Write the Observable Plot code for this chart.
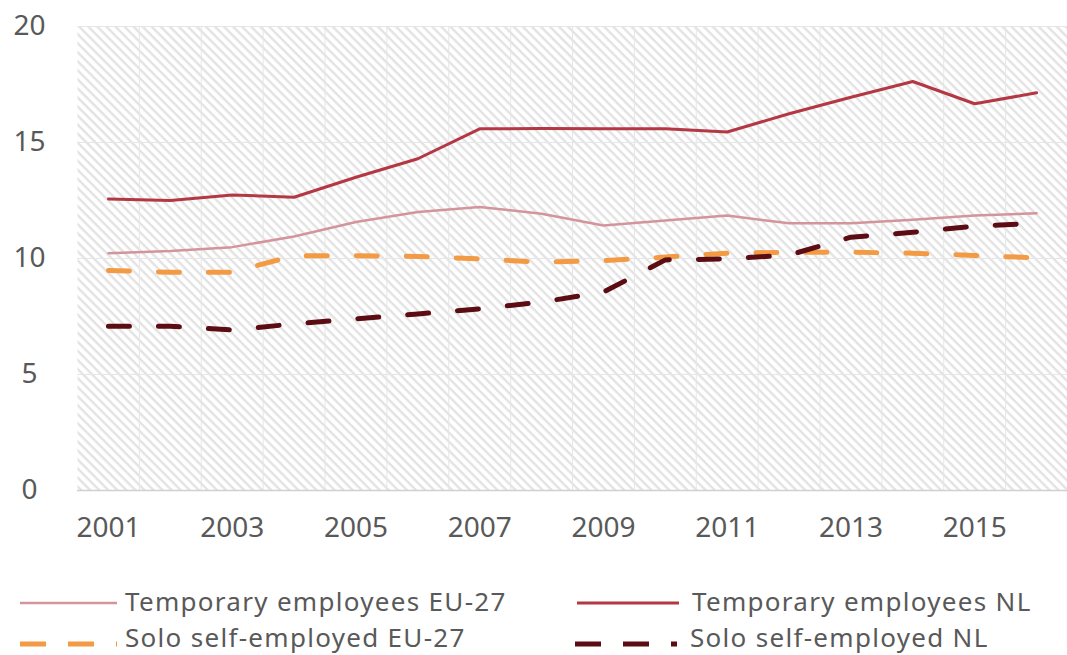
<!DOCTYPE html>
<html>
<head>
<meta charset="utf-8">
<script src="https://cdn.jsdelivr.net/npm/d3@7"></script>
<script src="https://cdn.jsdelivr.net/npm/@observablehq/plot@0.6"></script>
<style>
  html, body { margin: 0; padding: 0; background: #fff; }
  body { width: 1067px; height: 655px; position: relative; overflow: hidden; font-family: "Noto Sans", sans-serif; }
  #chart { position: absolute; left: 0; top: 0; }
  #legend { position: absolute; left: 0; top: 555px; }
</style>
</head>
<body>
<div id="chart"></div>
<div id="legend"></div>
<script>
const years = [2001, 2002, 2003, 2004, 2005, 2006, 2007, 2008, 2009, 2010, 2011, 2012, 2013, 2014, 2015, 2016];
const tempEU = [10.23, 10.32, 10.49, 10.95, 11.57, 12.0, 12.22, 11.93, 11.42, 11.64, 11.85, 11.52, 11.52, 11.67, 11.85, 11.95];
const tempNL = [12.57, 12.5, 12.74, 12.64, 13.5, 14.3, 15.59, 15.6, 15.59, 15.59, 15.45, 16.24, 16.95, 17.63, 16.67, 17.14];
const soloEU = [9.48, 9.41, 9.41, 10.12, 10.12, 10.09, 9.98, 9.84, 9.91, 10.06, 10.23, 10.27, 10.27, 10.23, 10.13, 10.03];
const soloNL = [7.08, 7.08, 6.92, 7.18, 7.4, 7.61, 7.83, 8.12, 8.55, 9.94, 9.98, 10.15, 10.92, 11.13, 11.39, 11.52];
const seriesNames = ["Temporary employees EU-27", "Temporary employees NL", "Solo self-employed EU-27", "Solo self-employed NL"];
const seriesColors = ["#D4949C", "#B33844", "#F39A45", "#5C0D14"];
const xTicks = [2001, 2003, 2005, 2007, 2009, 2011, 2013, 2015];
const yTicks = [0, 5, 10, 15, 20];

const seriesValues = [tempEU, tempNL, soloEU, soloNL];
const rows = seriesValues.map((vals, s) => years.map((yr, i) => ({year: yr, value: vals[i], series: seriesNames[s]})));
const styles = [
  {strokeWidth: 2.5},
  {strokeWidth: 3},
  {strokeWidth: 5, strokeDasharray: "21,29", strokeLinecap: "round"},
  {strokeWidth: 5, strokeDasharray: "21,29", strokeLinecap: "round"}
];

const boundaries = years.slice(0, -1).map(y => y + 0.5);

const defsMark = () => {
  const ns = "http://www.w3.org/2000/svg";
  const g = document.createElementNS(ns, "g");
  g.innerHTML = `<defs><pattern id="hatch" patternUnits="userSpaceOnUse" width="12" height="6.4" patternTransform="rotate(45)">
      <rect x="0" y="0" width="12" height="6.4" fill="#ffffff"></rect>
      <rect x="0" y="0" width="12" height="2.4" fill="#E3E3E3"></rect>
    </pattern></defs>`;
  return g;
};

const chart = Plot.plot({
  width: 1067,
  height: 555,
  marginTop: 26,
  marginBottom: 65,
  marginLeft: 77,
  marginRight: 0,
  style: {fontFamily: "'Noto Sans', sans-serif", fontSize: "28px", color: "#595959", background: "#fff"},
  x: {domain: [2000.5, 2016.5]},
  y: {domain: [0, 20]},
  marks: [
    defsMark,
    Plot.frame({fill: "url(#hatch)", stroke: null}),
    Plot.gridX(boundaries, {stroke: "#E6E6E6", strokeOpacity: 1, strokeWidth: 1}),
    Plot.gridY([5, 10, 15, 20], {stroke: "#E6E6E6", strokeOpacity: 1, strokeWidth: 1}),
    Plot.ruleY([0], {stroke: "#D0D0D0", strokeWidth: 1.5}),
    Plot.axisX(xTicks, {tickSize: 0, tickPadding: 27, tickFormat: d => String(d), fontSize: 28, fill: "#595959", label: null}),
    Plot.axisY(yTicks, {tickSize: 0, tickPadding: 48, textAnchor: "middle", fontSize: 28, fill: "#595959", label: null}),
    ...rows.map((data, s) => Plot.line(data, {x: "year", y: "value", stroke: seriesColors[s], ...styles[s]}))
  ]
});
document.getElementById("chart").appendChild(chart);

// Legend (separate SVG below the chart)
const legendPos = [
  {x1: 20, x2: 117, textX: 125, lineY: 48, baseY: 56},
  {x1: 577, x2: 679, textX: 692, lineY: 48, baseY: 56},
  {x1: 20, x2: 117, textX: 125, lineY: 89, baseY: 92},
  {x1: 575, x2: 677, textX: 690, lineY: 89, baseY: 92}
];
const ns = "http://www.w3.org/2000/svg";
const lsvg = document.createElementNS(ns, "svg");
lsvg.setAttribute("width", 1067);
lsvg.setAttribute("height", 100);
lsvg.setAttribute("font-family", "'Noto Sans', sans-serif");
lsvg.setAttribute("font-size", 26);
let inner = "";
seriesNames.forEach((name, s) => {
  const p = legendPos[s];
  const st = styles[s];
  const dash = st.strokeDasharray ? `stroke-dasharray="26,22" stroke-linecap="butt"` : "";
  inner += `<line x1="${p.x1}" x2="${p.x2}" y1="${p.lineY}" y2="${p.lineY}" stroke="${seriesColors[s]}" stroke-width="${st.strokeWidth}" ${dash}/>`;
  inner += `<text x="${p.textX}" y="${p.baseY}" fill="#595959" letter-spacing="1.3">${name}</text>`;
});
lsvg.innerHTML = inner;
document.getElementById("legend").appendChild(lsvg);
</script>
</body>
</html>
